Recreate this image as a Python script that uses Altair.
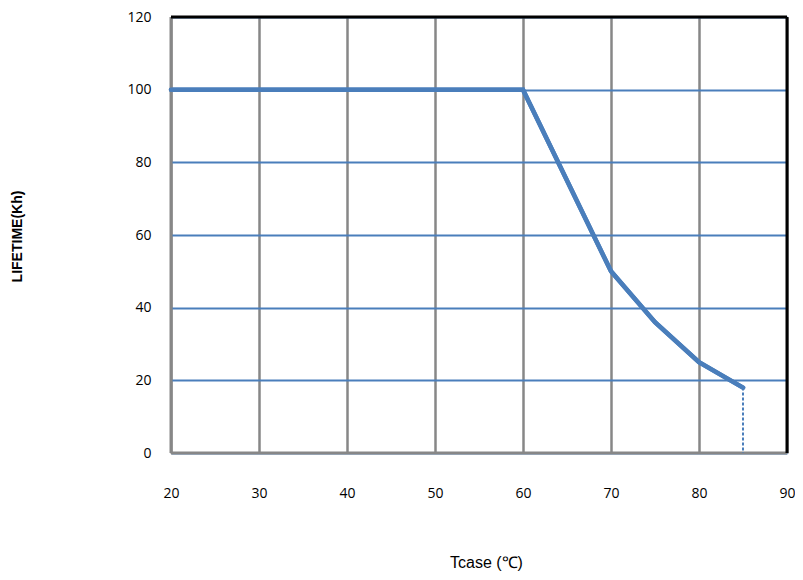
import altair as alt
import pandas as pd

temps = [20, 60, 70, 75, 80, 85]
lifetime = [100, 100, 50, 36, 25, 18]
drop_x = [85, 85]
drop_y = [18, 0]

x_ticks = [20, 30, 40, 50, 60, 70, 80, 90]
y_ticks = [0, 20, 40, 60, 80, 100, 120]

curve = pd.DataFrame({"t": temps, "life": lifetime})
drop = pd.DataFrame({"t": drop_x, "life": drop_y})

BLUE = "#4a7ebb"
GRAY = "#878787"

xs = alt.Scale(domain=[20, 90], nice=False, zero=False)
ys = alt.Scale(domain=[0, 120], nice=False)

xaxis = alt.Axis(values=x_ticks, grid=True, gridColor=GRAY, gridWidth=2.5, gridOpacity=1,
                 ticks=False, domain=False, labelPadding=33, labelFontSize=14, labelFlush=False,
                 labelFont="Open Sans", labelColor="#000", title="Tcase (℃)",
                 titleFont="Liberation Sans", titleFontSize=16, titleFontWeight="normal",
                 titleColor="#000", titleY=109, titleX=315, titleBaseline="middle")
yaxis = alt.Axis(values=y_ticks, grid=True, gridColor=BLUE, gridWidth=2, gridOpacity=1,
                 ticks=False, domain=False, labelPadding=20, labelFontSize=14, labelFlush=False,
                 labelFont="Open Sans", labelColor="#000", title="LIFETIME(Kh)",
                 titleFont="Liberation Sans", titleFontSize=14, titleFontWeight="bold",
                 titleColor="#000", titleX=-154, titleY=219, titleAngle=-90,
                 titleBaseline="middle", titleAlign="center")

base = alt.Chart(curve)

line = base.mark_line(color=BLUE, strokeWidth=4.5, strokeCap="round").encode(
    x=alt.X("t:Q", scale=xs, axis=xaxis),
    y=alt.Y("life:Q", scale=ys, axis=yaxis),
)

dashed = alt.Chart(drop).mark_line(color=BLUE, strokeWidth=2, strokeDash=[3, 2]).encode(
    x=alt.X("t:Q", scale=xs), y=alt.Y("life:Q", scale=ys)
)

bottom = alt.Chart(pd.DataFrame({"a": [20], "b": [90], "y": [0]})).mark_rule(
    color=GRAY, strokeWidth=3).encode(x=alt.X("a:Q", scale=xs), x2="b:Q", y=alt.Y("y:Q", scale=ys))
left = alt.Chart(pd.DataFrame({"x": [20], "a": [0], "b": [120]})).mark_rule(
    color=GRAY, strokeWidth=3).encode(x=alt.X("x:Q", scale=xs), y=alt.Y("a:Q", scale=ys), y2="b:Q")
top = alt.Chart(pd.DataFrame({"a": [20], "b": [90], "y": [120]})).mark_rule(
    color="#000", strokeWidth=3).encode(x=alt.X("a:Q", scale=xs), x2="b:Q", y=alt.Y("y:Q", scale=ys))
right = alt.Chart(pd.DataFrame({"x": [90], "a": [0], "b": [120]})).mark_rule(
    color="#000", strokeWidth=3).encode(x=alt.X("x:Q", scale=xs), y=alt.Y("a:Q", scale=ys), y2="b:Q")

chart = alt.layer(line, bottom, left, top, right, dashed, line).properties(
    width=616, height=436,
    autosize=alt.AutoSizeParams(type="none"),
    padding={"left": 163, "top": 9, "right": 8, "bottom": 118},
).configure_view(stroke=None).configure(background="#ffffff")

chart.save("out.html", embed_options={"renderer": "svg", "actions": False})
